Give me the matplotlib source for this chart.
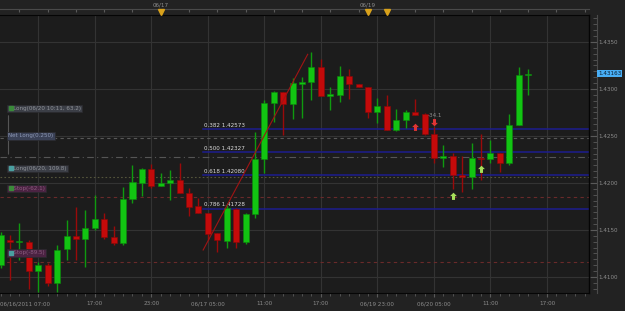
import numpy as np
import matplotlib
matplotlib.use("Agg")
import matplotlib.pyplot as plt
import matplotlib.ticker as tck
import matplotlib.transforms as mtrans

# hourly EURUSD-style candles
opens = [1.41128, 1.41394, 1.41372, 1.41372, 1.41064, 1.41128, 1.40936, 1.41298, 1.41436, 1.41404,
         1.41521, 1.41617, 1.41426, 1.41362, 1.41830, 1.42000, 1.42149, 1.41968, 1.42000, 1.42032,
         1.41894, 1.41755, 1.41681, 1.41468, 1.41383, 1.41723, 1.41372, 1.41670, 1.42255, 1.42851,
         1.42968, 1.42840, 1.43053, 1.43074, 1.43234, 1.42926, 1.42936, 1.43138, 1.43053, 1.43021,
         1.42755, 1.42819, 1.42564, 1.42670, 1.42755, 1.42734, 1.42521, 1.42266, 1.42287, 1.42085,
         1.42064, 1.42266, 1.42255, 1.42319, 1.42213, 1.42617, 1.43149]
highs = [1.41480, 1.41447, 1.41574, 1.41394, 1.41160, 1.41149, 1.41340, 1.41606, 1.41745, 1.41713,
         1.41872, 1.41681, 1.41543, 1.41957, 1.42191, 1.42160, 1.42202, 1.42106, 1.42138, 1.42213,
         1.41947, 1.41840, 1.41681, 1.41468, 1.41766, 1.41734, 1.41681, 1.42543, 1.42883, 1.42979,
         1.42968, 1.43117, 1.43128, 1.43394, 1.43319, 1.43021, 1.43245, 1.43213, 1.43053, 1.43021,
         1.42904, 1.42936, 1.42787, 1.42777, 1.42894, 1.42745, 1.42596, 1.42404, 1.42319, 1.42287,
         1.42426, 1.42521, 1.42457, 1.42319, 1.42734, 1.43234, 1.43213]
lows = [1.41095, 1.40968, 1.41181, 1.40872, 1.40840, 1.40904, 1.40840, 1.41181, 1.41181, 1.41106,
        1.41500, 1.41404, 1.41340, 1.41340, 1.41787, 1.41862, 1.41947, 1.41968, 1.41819, 1.41894,
        1.41649, 1.41681, 1.41394, 1.41266, 1.41309, 1.41309, 1.41351, 1.41628, 1.42106, 1.42649,
        1.42511, 1.42681, 1.42691, 1.42883, 1.42926, 1.42777, 1.42862, 1.42894, 1.43021, 1.42691,
        1.42638, 1.42564, 1.42553, 1.42585, 1.42723, 1.42511, 1.42213, 1.42170, 1.41936, 1.41904,
        1.41936, 1.42032, 1.42213, 1.42117, 1.42191, 1.42617, 1.42936]
closes = [1.41447, 1.41372, 1.41383, 1.41064, 1.41128, 1.40936, 1.41287, 1.41436, 1.41404, 1.41521,
          1.41617, 1.41426, 1.41362, 1.41830, 1.42011, 1.42149, 1.41968, 1.42000, 1.42032, 1.41894,
          1.41745, 1.41681, 1.41457, 1.41394, 1.41734, 1.41372, 1.41670, 1.42255, 1.42851, 1.42968,
          1.42840, 1.43064, 1.43074, 1.43234, 1.42926, 1.42947, 1.43138, 1.43053, 1.43021, 1.42755,
          1.42819, 1.42564, 1.42670, 1.42755, 1.42723, 1.42521, 1.42266, 1.42287, 1.42085, 1.42064,
          1.42266, 1.42255, 1.42319, 1.42213, 1.42617, 1.43149, 1.43163]

x_tick_slots = [4, 10, 16, 22, 28, 34, 40, 46, 52, 58]
x_tick_labels = ["06/16/2011 07:00", "17:00", "23:00", "06/17 05:00", "11:00",
                 "17:00", "06/19 23:00", "06/20 05:00", "11:00", "17:00"]
top_label_slots = [17, 39]
top_labels = ["06/17", "06/19"]
event_slots = [17, 39, 41]

fib_names = ["0.382 1.42573", "0.500 1.42327", "0.618 1.42080", "0.786 1.41728"]
fib_prices = [1.42573, 1.42327, 1.42080, 1.41728]
fib_start = 21.5
swing_slots = [21.5, 32.6]
swing_prices = [1.41287, 1.43369]

level_names = ["Long(06/20 10:11, 63.2)", "Net Long(0.250)", "Long(06/20, 109.8)",
               "Stop(-62.1)", "Stop(-89.5)"]
level_prices = [1.42277, 1.42479, 1.42064, 1.41851, 1.41160]

red_up_slots, red_up_prices = [44], [1.42599]
red_down_slots, red_down_prices = [46], [1.42652]
green_up_slots, green_up_prices = [48, 51], [1.41865, 1.42144]
pl_text = "-34.1"

# colours / styles
BG = "#1c1c1c"
FIG_BG = "#222222"
GRID = "#333333"
TXT = "#8c8c8c"
GREEN, GREEN_W = "#12c412", "#0f9a0f"
RED, RED_W = "#c40a0a", "#9a0a0a"
FS = 4.1

fig = plt.figure(figsize=(6.25, 3.11), dpi=100, facecolor=FIG_BG)
ax = fig.add_axes([0, 1 - 292.7 / 311, 589 / 625, 277.7 / 311])
ax.set_facecolor(BG)
ax.set_xlim(-0.064, 62.46)
ax.set_ylim(1.40833, 1.43787)

o, h, l, c = map(np.array, (opens, highs, lows, closes))
x = np.arange(len(o))
up = c >= o
body_lo = np.minimum(o, c)
body_h = np.maximum(np.abs(c - o), 0.00012)

ax.vlines(x[up], l[up], h[up], color=GREEN_W, lw=1, zorder=4)
ax.vlines(x[~up], l[~up], h[~up], color=RED_W, lw=1, zorder=4)
ax.bar(x[up], body_h[up], 0.64, body_lo[up], color=GREEN, edgecolor="#0c8a0c", lw=0.4, zorder=5)
ax.bar(x[~up], body_h[~up], 0.64, body_lo[~up], color=RED, edgecolor="#8a0808", lw=0.4, zorder=5)

# fibonacci retracement
for name, p in zip(fib_names, fib_prices):
    ax.plot([fib_start, 62.46], [p, p], color="#1c1c8e", lw=1.1, zorder=3)
    ax.annotate(name, (fib_start, p), xytext=(0.5, 1.5), textcoords="offset pixels",
                color="#dcdcdc", fontsize=FS, va="bottom", ha="left", zorder=6)
ax.plot(swing_slots, swing_prices, color="#a01414", lw=0.8, zorder=6)

# position / stop levels
level_styles = [("#555555", (0, (6, 3, 1, 3))), ("#585858", (0, (3, 3))),
                ("#55553c", (0, (1.5, 2))), ("#6a2a2a", (0, (3, 3))), ("#6a2a2a", (0, (3, 3)))]
for p, (col, ls) in zip(level_prices, level_styles):
    ax.axhline(p, color=col, lw=0.8, ls=ls, zorder=2)

box_styles = [("#3b3e46", "#8f9297", "#3a8a3a", 48.5), ("#3a4156", "#8c97b4", None, 2),
              ("#3b3e46", "#8f9297", "#4aa0a0", 8.5), ("#4b2342", "#8a5a7e", "#3a8a3a", 8.5),
              ("#4b2342", "#8a5a7e", "#4aa0a0", 9)]
yax = ax.get_yaxis_transform()
for name, p, (bg, fg, sq, dy) in zip(level_names, level_prices, box_styles):
    tr = yax + mtrans.ScaledTranslation(0, dy / 100, fig.dpi_scale_trans)
    pre = "   " if sq else ""
    ax.text(8 / 589, p, pre + name, transform=tr, fontsize=FS, color=fg, va="center", ha="left",
            zorder=8, bbox=dict(boxstyle="square,pad=0.25", fc=bg, ec="#2a2a2e", lw=0.5))
    if sq:
        ax.plot([10.5 / 589], [p], transform=tr, marker="s", ms=3.4, color=sq, zorder=9,
                clip_on=False)
ax.annotate("", xy=(8.5 / 589, level_prices[0]), xycoords=yax, xytext=(0, 44),
            textcoords="offset pixels", arrowprops=dict(arrowstyle="-", color="#555555", lw=0.8))

# trade arrows
up_arrow = [(0, 1), (0.9, 0.1), (0.4, 0.1), (0.4, -0.9), (-0.4, -0.9), (-0.4, 0.1), (-0.9, 0.1), (0, 1)]
down_arrow = [(a, -b) for a, b in up_arrow]
ax.scatter(red_up_slots, red_up_prices, marker=up_arrow, s=30, color="#e03434", zorder=7, lw=0)
ax.scatter(red_down_slots, red_down_prices, marker=down_arrow, s=30, color="#e03434", zorder=7, lw=0)
ax.scatter(green_up_slots, green_up_prices, marker=up_arrow, s=30, color="#a6e05a", zorder=7, lw=0)
ax.annotate(pl_text, (red_down_slots[0], red_down_prices[0]), xytext=(1, 6.5),
            textcoords="offset pixels", color=TXT, fontsize=FS, ha="center", va="center", zorder=7)

# grid + axes
ax.set_xticks(x_tick_slots)
ax.set_xticklabels(x_tick_labels)
ax.xaxis.set_minor_locator(tck.MultipleLocator(1))
ax.set_yticks([1.4100, 1.4150, 1.4200, 1.4250, 1.4300, 1.4350])
ax.yaxis.set_major_formatter(tck.FormatStrFormatter("%.4f"))
ax.yaxis.set_minor_locator(tck.MultipleLocator(0.000625))
ax.grid(True, which="major", color=GRID, lw=0.8, zorder=0)
ax.set_axisbelow(True)

ax.yaxis.tick_right()
ax.spines["left"].set_visible(False)
ax.spines["right"].set_position(("outward", 5.8))
ax.spines["right"].set_color("#4a4a4a")
ax.spines["bottom"].set_color("#050505")
ax.spines["top"].set_color("#050505")
ax.plot([1, 1], [0, 1], transform=ax.transAxes, color="#050505", lw=1, clip_on=False, zorder=10)

ax.tick_params(axis="y", which="both", direction="in", colors="#5a5a5a", labelcolor=TXT,
               labelsize=FS, pad=1.2)
ax.tick_params(axis="y", which="major", length=5)
ax.tick_params(axis="y", which="minor", length=2.8)
ax.tick_params(axis="x", which="both", direction="out", colors="#5a5a5a", labelcolor=TXT,
               labelsize=FS, pad=3)
ax.tick_params(axis="x", which="major", length=3)
ax.tick_params(axis="x", which="minor", length=2)

first = ax.get_xticklabels()[0]
first.set_horizontalalignment("left")
first.set_transform(first.get_transform() +
                    mtrans.ScaledTranslation(-38.5 / 100, 0, fig.dpi_scale_trans))

# the last price tag
ax.text(1 + 9 / 589, closes[-1], "%.5f" % closes[-1], transform=yax, fontsize=FS, color="#0a1a2a",
        va="center", ha="left", clip_on=False, zorder=10,
        bbox=dict(boxstyle="square,pad=0.2", fc="#48aef5", ec="#48aef5", lw=0))

# top time strip
top = ax.secondary_xaxis(1 + 5.7 / 277.7)
top.spines["top"].set_color("#4a4a4a")
top.set_xticks(np.arange(2, 63, 3))
top.set_xticklabels([])
top.tick_params(direction="in", length=2.2, colors="#5a5a5a")
xax = ax.get_xaxis_transform()
for s, lab in zip(top_label_slots, top_labels):
    ax.text(s, 1.0371, lab, transform=xax, fontsize=FS, color=TXT, ha="center", va="center",
            clip_on=False)
ax.plot(event_slots, [1.0126] * len(event_slots), transform=xax, ls="none", marker="v", ms=4,
        color="#d9a21b", clip_on=False, zorder=10)

fig.savefig("out.png", dpi=100, facecolor=fig.get_facecolor())
